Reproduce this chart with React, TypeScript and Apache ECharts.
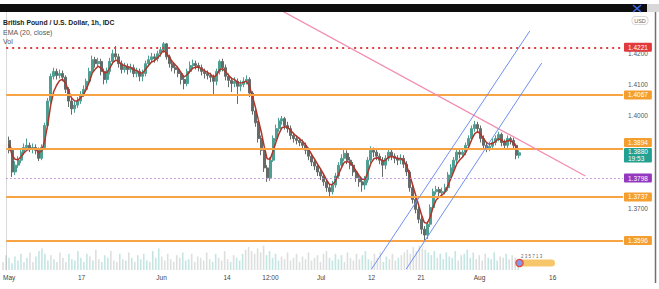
import React, { useEffect, useRef } from 'react';
import * as echarts from 'echarts';

// ---- data (GBP/USD, 1h; each drawn bar groups ~9 hourly bars) ----
const firstOpen = 1.3920;
const closes = [
  1.3888, 1.3818, 1.3840, 1.3856, 1.3882, 1.3897, 1.3904, 1.3894, 1.3897, 1.3888,
  1.3862, 1.3897, 1.3968, 1.4047, 1.4127, 1.4143, 1.4130, 1.4136, 1.4124, 1.4085,
  1.4047, 1.4022, 1.4034, 1.4047, 1.4069, 1.4085, 1.4111, 1.4143, 1.4181, 1.4168,
  1.4175, 1.4143, 1.4117, 1.4143, 1.4175, 1.4200, 1.4190, 1.4168, 1.4149, 1.4159,
  1.4149, 1.4155, 1.4136, 1.4143, 1.4127, 1.4136, 1.4168, 1.4181, 1.4190, 1.4184,
  1.4200, 1.4213, 1.4232, 1.4190, 1.4168, 1.4155, 1.4149, 1.4136, 1.4117, 1.4104,
  1.4143, 1.4162, 1.4168, 1.4162, 1.4155, 1.4143, 1.4136, 1.4130, 1.4124, 1.4111,
  1.4143, 1.4175, 1.4155, 1.4127, 1.4114, 1.4104, 1.4111, 1.4095, 1.4101, 1.4111,
  1.4117, 1.4073, 1.4015, 1.3977, 1.3926, 1.3888, 1.3831, 1.3799, 1.3856, 1.3926,
  1.3958, 1.3983, 1.3990, 1.3968, 1.3958, 1.3936, 1.3926, 1.3920, 1.3913, 1.3904,
  1.3888, 1.3869, 1.3850, 1.3837, 1.3818, 1.3805, 1.3786, 1.3767, 1.3754, 1.3776,
  1.3805, 1.3840, 1.3862, 1.3878, 1.3856, 1.3840, 1.3818, 1.3799, 1.3786, 1.3776,
  1.3792, 1.3856, 1.3888, 1.3882, 1.3869, 1.3856, 1.3840, 1.3862, 1.3882, 1.3869,
  1.3862, 1.3856, 1.3862, 1.3843, 1.3818, 1.3767, 1.3729, 1.3697, 1.3665, 1.3633,
  1.3614, 1.3649, 1.3703, 1.3754, 1.3761, 1.3751, 1.3754, 1.3767, 1.3808, 1.3831,
  1.3856, 1.3882, 1.3875, 1.3882, 1.3904, 1.3926, 1.3958, 1.3971, 1.3958, 1.3926,
  1.3904, 1.3894, 1.3901, 1.3913, 1.3926, 1.3939, 1.3913, 1.3904, 1.3926, 1.3920,
  1.3904, 1.3872, 1.3880,
];
const highs = [
  1.3932, 1.3897, 1.3853, 1.3869, 1.3894, 1.3910, 1.3926, 1.3913, 1.3910, 1.3907,
  1.3897, 1.3907, 1.3977, 1.4057, 1.4136, 1.4155, 1.4152, 1.4149, 1.4146, 1.4130,
  1.4092, 1.4057, 1.4047, 1.4060, 1.4079, 1.4098, 1.4120, 1.4155, 1.4194, 1.4190,
  1.4187, 1.4184, 1.4152, 1.4155, 1.4187, 1.4213, 1.4225, 1.4200, 1.4178, 1.4171,
  1.4168, 1.4168, 1.4165, 1.4155, 1.4152, 1.4149, 1.4178, 1.4194, 1.4203, 1.4200,
  1.4210, 1.4222, 1.4238, 1.4235, 1.4197, 1.4178, 1.4165, 1.4159, 1.4143, 1.4127,
  1.4152, 1.4175, 1.4181, 1.4178, 1.4171, 1.4165, 1.4152, 1.4146, 1.4139, 1.4133,
  1.4152, 1.4181, 1.4184, 1.4165, 1.4136, 1.4124, 1.4124, 1.4120, 1.4114, 1.4124,
  1.4130, 1.4124, 1.4079, 1.4025, 1.3983, 1.3936, 1.3894, 1.3840, 1.3866, 1.3936,
  1.3971, 1.3993, 1.3999, 1.3996, 1.3980, 1.3968, 1.3945, 1.3936, 1.3929, 1.3923,
  1.3913, 1.3897, 1.3878, 1.3859, 1.3846, 1.3827, 1.3815, 1.3796, 1.3776, 1.3789,
  1.3815, 1.3850, 1.3875, 1.3894, 1.3888, 1.3866, 1.3850, 1.3827, 1.3808, 1.3796,
  1.3805, 1.3866, 1.3901, 1.3897, 1.3891, 1.3878, 1.3866, 1.3872, 1.3891, 1.3891,
  1.3878, 1.3872, 1.3875, 1.3872, 1.3853, 1.3824, 1.3776, 1.3738, 1.3706, 1.3675,
  1.3643, 1.3659, 1.3713, 1.3764, 1.3773, 1.3770, 1.3767, 1.3780, 1.3818, 1.3843,
  1.3866, 1.3891, 1.3891, 1.3894, 1.3913, 1.3936, 1.3968, 1.3983, 1.3980, 1.3968,
  1.3936, 1.3913, 1.3913, 1.3926, 1.3936, 1.3948, 1.3945, 1.3923, 1.3936, 1.3932,
  1.3929, 1.3910, 1.3888,
];
const lows = [
  1.3878, 1.3802, 1.3808, 1.3831, 1.3846, 1.3872, 1.3888, 1.3882, 1.3878, 1.3875,
  1.3853, 1.3856, 1.3891, 1.3958, 1.4038, 1.4117, 1.4117, 1.4120, 1.4111, 1.4073,
  1.4028, 1.4003, 1.4009, 1.4025, 1.4038, 1.4060, 1.4076, 1.4101, 1.4136, 1.4155,
  1.4159, 1.4130, 1.4101, 1.4104, 1.4133, 1.4165, 1.4181, 1.4155, 1.4136, 1.4139,
  1.4133, 1.4139, 1.4124, 1.4124, 1.4111, 1.4111, 1.4127, 1.4159, 1.4171, 1.4171,
  1.4175, 1.4190, 1.4203, 1.4181, 1.4155, 1.4143, 1.4136, 1.4124, 1.4101, 1.4085,
  1.4095, 1.4136, 1.4152, 1.4149, 1.4143, 1.4130, 1.4120, 1.4117, 1.4108, 1.4069,
  1.4098, 1.4133, 1.4143, 1.4114, 1.4092, 1.4076, 1.4092, 1.4038, 1.4079, 1.4092,
  1.4101, 1.4060, 1.4003, 1.3964, 1.3913, 1.3872, 1.3818, 1.3786, 1.3789, 1.3850,
  1.3917, 1.3948, 1.3971, 1.3955, 1.3945, 1.3923, 1.3913, 1.3907, 1.3901, 1.3891,
  1.3875, 1.3856, 1.3837, 1.3824, 1.3805, 1.3792, 1.3773, 1.3754, 1.3738, 1.3745,
  1.3767, 1.3796, 1.3831, 1.3853, 1.3843, 1.3827, 1.3805, 1.3786, 1.3770, 1.3754,
  1.3761, 1.3783, 1.3846, 1.3866, 1.3856, 1.3843, 1.3802, 1.3827, 1.3853, 1.3856,
  1.3846, 1.3840, 1.3843, 1.3831, 1.3805, 1.3754, 1.3716, 1.3684, 1.3652, 1.3617,
  1.3595, 1.3601, 1.3640, 1.3694, 1.3745, 1.3738, 1.3738, 1.3745, 1.3757, 1.3799,
  1.3821, 1.3846, 1.3862, 1.3866, 1.3872, 1.3894, 1.3917, 1.3948, 1.3945, 1.3913,
  1.3891, 1.3882, 1.3885, 1.3891, 1.3904, 1.3917, 1.3901, 1.3891, 1.3894, 1.3907,
  1.3891, 1.3859, 1.3862,
];
const volumes = [
  30, 55, 45, 25, 50, 35, 60, 30, 45, 65,
  30, 50, 70, 80, 60, 35, 55, 40, 30, 65,
  45, 30, 60, 40, 35, 70, 45, 30, 60, 50,
  35, 75, 40, 30, 55, 45, 70, 35, 30, 60,
  40, 35, 65, 45, 30, 55, 40, 60, 35, 30,
  70, 45, 80, 50, 35, 60, 40, 30, 55, 45,
  65, 35, 40, 60, 30, 50, 45, 35, 65, 40,
  30, 60, 45, 35, 70, 40, 30, 55, 45, 35,
  60, 75, 85, 70, 60, 80, 65, 90, 55, 70,
  45, 60, 35, 50, 40, 65, 35, 45, 60, 30,
  50, 40, 65, 35, 45, 55, 30, 60, 70, 45,
  35, 60, 40, 55, 30, 65, 45, 35, 60, 40,
  55, 70, 40, 35, 60, 45, 65, 30, 50, 40,
  60, 35, 45, 55, 65, 75, 60, 85, 70, 90,
  80, 75, 65, 55, 70, 45, 60, 40, 65, 50,
  45, 70, 35, 55, 60, 75, 45, 65, 40, 55,
  35, 60, 45, 40, 65, 35, 50, 45, 60, 40,
  55, 45, 35,
];

const redLevel = 1.4221;
const orangeLevels = [1.4067, 1.3894, 1.3737, 1.3596];
const purpleLevel = 1.3798;
const lastPrice = 1.388;
const countdown = '19:53';

const priceTicks = [1.42, 1.41, 1.4, 1.37];
const timeTickLabels = ['May', '17', 'Jun', '14', '12:00', 'Jul', '12', '21', 'Aug', '16'];
const timeTickPos = [1.0, 25.4, 52.4, 74.5, 89.1, 106.2, 123.2, 139.9, 159.6, 184.3];

// drawings, in (bar index, price)
const pinkLine = [[91.8, 1.4345], [195.3, 1.3805]];
const channelUpper = [[123.2, 1.3504], [176.6, 1.4274]];
const channelLower = [[134.9, 1.3504], [180.6, 1.417]];

const FONT = 'Liberation Sans, Arial, sans-serif';
const UP = '#4d9f92';
const DOWN = '#646b68';
const ORANGE = '#f8a444';

export default function App() {
  const ref = useRef<HTMLDivElement>(null);

  useEffect(() => {
    if (!ref.current) return;
    const chart = echarts.init(ref.current, undefined, { renderer: 'svg' });

    const opens = closes.map((_, i) => (i === 0 ? firstOpen : closes[i - 1]));
    const candles = closes.map((c, i) => [i + 1, opens[i], c, lows[i], highs[i]]);
    // EMA(20) of hourly closes ~ EMA with alpha 0.4 over these grouped bars
    let e = firstOpen;
    const ema = closes.map((c, i) => {
      e = e + 0.4 * (c - e);
      return [i + 1, +e.toFixed(5)];
    });
    const vol = volumes.map((v, i) => ({
      value: [i + 1, v],
      itemStyle: { color: closes[i] >= opens[i] ? 'rgba(38,166,154,0.28)' : 'rgba(130,140,136,0.28)' },
    }));

    const tag = (bg: string, extra: any = {}) => ({
      show: true,
      position: 'end',
      distance: 1,
      formatter: (p: any) => Number(p.value).toFixed(4),
      backgroundColor: bg,
      color: '#fff',
      fontFamily: FONT,
      fontSize: 6.5,
      lineHeight: 8,
      padding: [1, 4, 0, 4],
      borderRadius: 1,
      ...extra,
    });

    const markData: any[] = [
      { yAxis: redLevel, lineStyle: { color: '#e23b3b', type: [2, 4], width: 2 }, label: tag('#e0393e') },
      ...orangeLevels.map((v, i) => ({
        yAxis: v,
        lineStyle: { color: ORANGE, type: 'solid', width: 2 },
        label: tag('#f59e30', i === 1 ? { offset: [0, -6] } : {}),
      })),
      { yAxis: purpleLevel, lineStyle: { color: '#b987d3', type: [1.5, 2.5], width: 1 }, label: tag('#9438c0') },
      {
        yAxis: lastPrice,
        lineStyle: { color: 'rgba(0,0,0,0)', width: 0 },
        label: tag('#22a092', {
          formatter: (p: any) => Number(p.value).toFixed(4) + '\n' + countdown,
          lineHeight: 6.8,
          padding: [1, 4, 0, 4],
          offset: [0, 2.5],
        }),
      },
    ];

    const trend = (data: number[][], color: string, width: number) => ({
      type: 'line',
      xAxisIndex: 0,
      yAxisIndex: 0,
      data,
      showSymbol: false,
      symbol: 'none',
      silent: true,
      z: 6,
      lineStyle: { color, width },
    });

    chart.setOption({
      animation: false,
      backgroundColor: '#ffffff',
      textStyle: { fontFamily: FONT },
      grid: [
        { left: 0, right: 36, top: 12, bottom: 19 },
        { left: 0, right: 36, top: 243, bottom: 19 },
      ],
      xAxis: [
        {
          type: 'value',
          gridIndex: 0,
          min: 0,
          max: 208,
          axisLine: { show: false },
          axisTick: { show: false },
          splitLine: { show: false },
          axisLabel: {
            customValues: timeTickPos,
            formatter: (v: number) => {
              const k = timeTickPos.findIndex((p) => Math.abs(p - v) < 1e-6);
              return k >= 0 ? timeTickLabels[k] : '';
            },
            alignMinLabel: 'center',
            color: '#444',
            fontSize: 6.5,
            margin: 4,
            fontFamily: FONT,
          },
        },
        { type: 'value', gridIndex: 1, min: 0, max: 208, show: false },
      ],
      yAxis: [
        {
          type: 'value',
          gridIndex: 0,
          position: 'right',
          min: 1.3501,
          max: 1.4335,
          axisLine: { show: true, lineStyle: { color: '#d9d9d9', width: 1 } },
          axisTick: { show: false },
          splitLine: { show: false },
          axisLabel: {
            customValues: priceTicks,
            formatter: (v: number) => v.toFixed(4),
            color: '#555',
            fontSize: 6.5,
            margin: 5,
            fontFamily: FONT,
          },
        },
        { type: 'value', gridIndex: 1, min: 0, max: 100, show: false },
      ],
      series: [
        {
          type: 'bar',
          xAxisIndex: 1,
          yAxisIndex: 1,
          data: vol,
          barWidth: 1.6,
          silent: true,
          z: 1,
        },
        {
          type: 'candlestick',
          xAxisIndex: 0,
          yAxisIndex: 0,
          data: candles,
          encode: { x: 0, y: [1, 2, 3, 4] },
          barWidth: 2.5,
          silent: true,
          z: 2,
          itemStyle: {
            color: UP,
            color0: DOWN,
            borderColor: UP,
            borderColor0: DOWN,
            borderWidth: 1,
          },
          markLine: {
            silent: true,
            symbol: 'none',
            precision: 4,
            animation: false,
            z: 5,
            data: markData,
          },
        },
        {
          type: 'line',
          xAxisIndex: 0,
          yAxisIndex: 0,
          data: ema,
          showSymbol: false,
          symbol: 'none',
          silent: true,
          z: 3,
          lineStyle: { color: '#b0342a', width: 1.5 },
        },
        trend(pinkLine, '#f28db2', 1.3),
        trend(channelUpper, '#6f8ff0', 1),
        trend(channelLower, '#6f8ff0', 1),
      ],
      graphic: [
        { type: 'rect', shape: { x: 0, y: 4, width: 647, height: 8 }, style: { fill: '#0e0e0e' }, z: 20 },
        { type: 'rect', shape: { x: 647, y: 4, width: 12, height: 8 }, style: { fill: '#d8d8d8' }, z: 20 },
        { type: 'line', shape: { x1: 633, y1: 5, x2: 641, y2: 12 }, style: { stroke: '#3d68e6', lineWidth: 1.6 }, z: 21 },
        { type: 'line', shape: { x1: 641, y1: 5, x2: 633, y2: 12 }, style: { stroke: '#3d68e6', lineWidth: 1.6 }, z: 21 },
        { type: 'line', shape: { x1: 655.5, y1: 12, x2: 655.5, y2: 283 }, style: { stroke: '#707070', lineWidth: 1.5 }, z: 20 },
        { type: 'rect', shape: { x: 632, y: 16.5, width: 16, height: 8, r: 3 }, style: { fill: 'none', stroke: '#cfcfcf', lineWidth: 0.8 }, z: 20 },
        { type: 'text', x: 640, y: 20.5, style: { text: 'USD', fill: '#666', fontSize: 5.5, fontFamily: FONT, align: 'center', verticalAlign: 'middle' }, z: 21 },
        { type: 'text', x: 3, y: 22, style: { text: 'British Pound / U.S. Dollar, 1h, IDC', fill: '#222', fontSize: 6.8, fontWeight: 'bold', fontFamily: FONT, verticalAlign: 'middle' }, z: 21 },
        { type: 'text', x: 3, y: 32, style: { text: 'EMA (20, close)', fill: '#555', fontSize: 7, fontFamily: FONT, verticalAlign: 'middle' }, z: 21 },
        { type: 'text', x: 3, y: 41.5, style: { text: 'Vol', fill: '#555', fontSize: 7, fontFamily: FONT, verticalAlign: 'middle' }, z: 21 },
        { type: 'rect', shape: { x: 518, y: 259.5, width: 37, height: 7, r: 3.5 }, style: { fill: '#f7c56a' }, z: 21 },
        { type: 'circle', shape: { cx: 519.5, cy: 263, r: 3.6 }, style: { fill: '#7c9cf0', stroke: '#e5473d', lineWidth: 1.3 }, z: 22 },
        { type: 'text', x: 521, y: 256.5, style: { text: '2 3 5 7 1 3', fill: '#666', fontSize: 4.5, fontFamily: FONT, verticalAlign: 'middle' }, z: 22 },
      ],
    });

    return () => chart.dispose();
  }, []);

  return (
    <div
      ref={ref}
      style={{ position: 'fixed', left: 0, top: 0, width: 659, height: 289, background: '#fff' }}
    />
  );
}
